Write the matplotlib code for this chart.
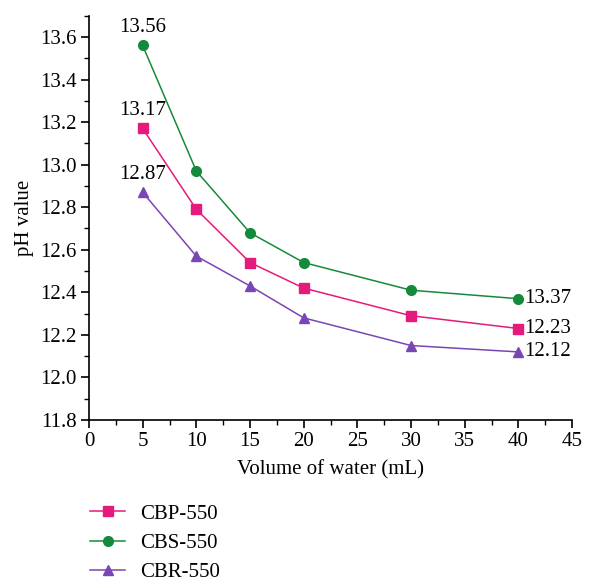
import matplotlib
matplotlib.use("Agg")
import matplotlib.pyplot as plt
from matplotlib.ticker import MultipleLocator

plt.rcParams['font.family'] = ['Liberation Serif', 'DejaVu Serif']

volume = [5, 10, 15, 20, 30, 40]
cbp = [13.17, 12.79, 12.54, 12.42, 12.29, 12.23]
cbs = [13.56, 12.97, 12.68, 12.54, 12.41, 12.37]
cbr = [12.87, 12.57, 12.43, 12.28, 12.15, 12.12]
labels = ["CBP-550", "CBS-550", "CBR-550"]
start_text = ["13.17", "13.56", "12.87"]
end_text = ["12.23", "13.37", "12.12"]

colors = ["#E6197D", "#168A3C", "#7A45B5"]
markers = ["s", "o", "^"]

fs = 15

fig = plt.figure(figsize=(6.0, 5.82), dpi=100)
ax = fig.add_axes([89/600, 1-420/582, (572-89)/600, (420-15.7)/582])

for ys, lab, c, m, st, et in zip([cbp, cbs, cbr], labels, colors, markers, start_text, end_text):
    ms = 6.5 if m == 's' else 7
    ax.plot(volume, ys, color=c, marker=m, markersize=ms, linewidth=1.1, label=lab)
    ax.annotate(st, (volume[0], ys[0]), xytext=(0, 6), textcoords='offset points',
                ha='center', va='bottom', fontsize=fs)
    ax.annotate(et, (volume[-1], ys[-1]), xytext=(4, 0), textcoords='offset points',
                ha='left', va='center', fontsize=fs)

ax.set_xlim(0, 45)
ax.set_ylim(11.8, 13.7)
ax.xaxis.set_major_locator(MultipleLocator(5))
ax.xaxis.set_minor_locator(MultipleLocator(2.5))
ax.yaxis.set_major_locator(MultipleLocator(0.2))
ax.yaxis.set_minor_locator(MultipleLocator(0.1))
ax.yaxis.set_major_formatter(matplotlib.ticker.FormatStrFormatter('%.1f'))
for s in ['top', 'right']:
    ax.spines[s].set_visible(False)
for s in ['left', 'bottom']:
    ax.spines[s].set_linewidth(1.2)
ax.tick_params(axis='both', which='major', direction='out', length=6, width=1.2, labelsize=fs, pad=3)
ax.tick_params(axis='both', which='minor', direction='out', length=3.5, width=1.0)
ax.set_xlabel("Volume of water (mL)", fontsize=fs, labelpad=6)
ax.set_ylabel("pH value", fontsize=fs, labelpad=4)

fig.legend(loc='upper left', bbox_to_anchor=(0.15, 1-504/582), frameon=False,
           fontsize=fs, handlelength=1.7, labelspacing=0.47, handletextpad=0.7,
           borderaxespad=0, borderpad=0)

fig.savefig("out.png", dpi=100)
